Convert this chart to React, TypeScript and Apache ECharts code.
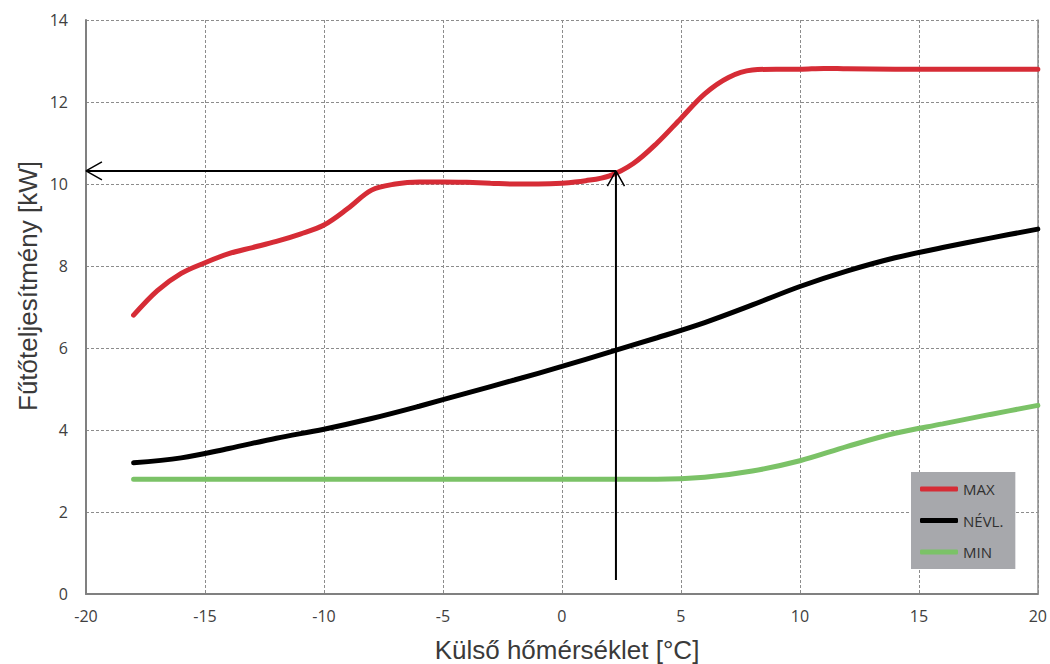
import React, { useEffect, useRef } from "react";
import * as echarts from "echarts";

const xTicks = [-20, -15, -10, -5, 0, 5, 10, 15, 20];
const maxX = [-18, -17, -16, -15, -14, -13, -12, -11, -10, -9, -8, -7, -6, -5, -4, -3, -2, -1, 0, 1, 2, 3, 4, 5, 6, 7, 8, 9, 10, 11, 12, 14, 16, 18, 20];
const maxY = [6.8, 7.4, 7.82, 8.08, 8.3, 8.45, 8.6, 8.78, 9.0, 9.4, 9.85, 10.0, 10.05, 10.05, 10.04, 10.02, 10.0, 10.0, 10.02, 10.08, 10.2, 10.5, 11.0, 11.6, 12.2, 12.6, 12.78, 12.8, 12.8, 12.82, 12.81, 12.8, 12.8, 12.8, 12.8];
const nomX = [-18, -16, -14, -12, -10, -8, -6, -4, -2, 0, 2, 4, 6, 8, 10, 12, 14, 16, 18, 20];
const nomY = [3.2, 3.32, 3.55, 3.8, 4.02, 4.28, 4.58, 4.9, 5.22, 5.55, 5.9, 6.25, 6.62, 7.05, 7.5, 7.88, 8.2, 8.45, 8.68, 8.9];
const minX = [-18, -10, 0, 4, 6, 8, 10, 12, 14, 16, 18, 20];
const minY = [2.8, 2.8, 2.8, 2.8, 2.85, 3.0, 3.25, 3.6, 3.92, 4.15, 4.38, 4.6];

// reading annotation: outdoor temp 2.27 °C -> 10.32 kW
const readX = 2.27;
const readY = 10.32;
const readStartY = 0.34;

const seriesNames = ["MAX", "NÉVL.", "MIN"];
const seriesColors = ["#d62c36", "#000000", "#7bc267"];

const zip = (xs: number[], ys: number[]) => xs.map((x, i) => [x, ys[i]]);

export default function App() {
  const ref = useRef<HTMLDivElement>(null);
  useEffect(() => {
    document.body.style.margin = "0";
    const chart = echarts.init(ref.current!, null, { renderer: "svg" });
    const tickFont = { fontFamily: "Open Sans", fontSize: 16, color: "#404040" };
    const lineSeries = (name: string, data: number[][], color: string) => ({
      name,
      type: "line",
      data,
      smooth: 0.35,
      showSymbol: false,
      symbol: "none",
      lineStyle: { color, width: 5, cap: "round" },
      itemStyle: { color },
      z: 5,
    });
    const arrowLine = (data: (number[] | null)[], width: number) => ({
      type: "line",
      data,
      showSymbol: false,
      symbol: "none",
      silent: true,
      connectNulls: false,
      lineStyle: { color: "#000", width },
      z: 6,
    });
    chart.setOption({
      animation: false,
      grid: { left: 86, right: 12, top: 20, bottom: 70 },
      legend: {
        data: seriesNames,
        orient: "vertical",
        left: 911,
        top: 472,
        icon: "roundRect",
        itemWidth: 38,
        itemHeight: 5,
        itemGap: 13.5,
        padding: [8, 12, 8, 9],
        backgroundColor: "#a7a8ac",
        textStyle: { fontFamily: "Open Sans", fontSize: 15, color: "#303030", lineHeight: 18 },
      },
      xAxis: {
        type: "value",
        min: -20,
        max: 20,
        interval: 5,
        axisLine: { show: true, onZero: false, lineStyle: { color: "#808080", width: 2 } },
        axisTick: { show: false },
        axisLabel: { ...tickFont, margin: 14 },
        splitLine: { show: true, lineStyle: { color: "#8c8c8c", type: [3, 2], width: 1 } },
      },
      yAxis: [
        {
          type: "value",
          min: 0,
          max: 14,
          interval: 2,
          axisLine: { show: true, onZero: false, lineStyle: { color: "#808080", width: 2 } },
          axisTick: { show: false },
          axisLabel: { ...tickFont, margin: 18 },
          splitLine: { show: true, lineStyle: { color: "#8c8c8c", type: [3, 2], width: 1 } },
        },
        {
          type: "value",
          position: "right",
          min: 0,
          max: 14,
          interval: 2,
          axisLine: { show: true, onZero: false, lineStyle: { color: "#8c8c8c", width: 1.5 } },
          axisTick: { show: false },
          axisLabel: { show: false },
          splitLine: { show: false },
        },
      ],
      graphic: [
        {
          type: "text",
          x: 28,
          y: 286,
          rotation: Math.PI / 2,
          style: {
            text: "Fűtőteljesítmény [kW]",
            font: '26px "Liberation Sans"',
            fill: "#3a3a3a",
            align: "center",
            verticalAlign: "middle",
          },
        },
        {
          type: "text",
          x: 567,
          y: 650,
          style: {
            text: "Külső hőmérséklet [°C]",
            font: '26px "Liberation Sans"',
            fill: "#3a3a3a",
            align: "center",
            verticalAlign: "middle",
          },
        },
      ],
      series: [
        lineSeries(seriesNames[0], zip(maxX, maxY), seriesColors[0]),
        lineSeries(seriesNames[1], zip(nomX, nomY), seriesColors[1]),
        lineSeries(seriesNames[2], zip(minX, minY), seriesColors[2]),
        arrowLine([[readX, readStartY], [readX, readY], null, [-20, readY], [readX, readY]], 2),
        arrowLine(
          [
            [readX - 0.36, readY - 0.37], [readX, readY], [readX + 0.36, readY - 0.37], null,
            [-20 + 0.67, readY + 0.22], [-20, readY], [-20 + 0.67, readY - 0.22],
          ],
          1.5
        ),
      ],
    });
    return () => chart.dispose();
  }, []);
  return <div ref={ref} style={{ width: 1050, height: 664 }} />;
}
